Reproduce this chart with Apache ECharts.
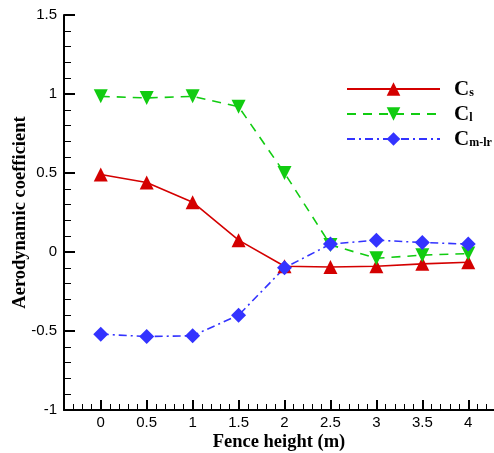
<!DOCTYPE html>
<html>
<head>
<meta charset="utf-8">
<script src="https://cdn.jsdelivr.net/npm/echarts@6/dist/echarts.min.js"></script>
<style>
  html, body { margin: 0; padding: 0; background: #fff; }
  #main { width: 494px; height: 453px; }
</style>
</head>
<body>
<div id="main"></div>
<script>
// fence height (m)
var heights = [0, 0.5, 1, 1.5, 2, 2.5, 3, 3.5, 4];
// aerodynamic coefficients
var cs = [0.49, 0.44, 0.315, 0.075, -0.09, -0.095, -0.09, -0.075, -0.065];
var cl = [0.985, 0.975, 0.985, 0.92, 0.5, 0.045, -0.04, -0.02, -0.01];
var cm = [-0.52, -0.535, -0.53, -0.40, -0.10, 0.05, 0.075, 0.06, 0.05];
var xTicks = [0, 0.5, 1, 1.5, 2, 2.5, 3, 3.5, 4];

var xMinor = [];
for (var k = -3; k <= 42; k++) xMinor.push(k / 10);

var subs = { 'Cs': 's', 'Cl': 'l', 'Cm-lr': 'm-lr' };
var serif = 'Liberation Serif';

function pairs(ys) {
    return heights.map(function (h, i) { return [h, ys[i]]; });
}

var chart = echarts.init(document.getElementById('main'));

var xBase = {
    type: 'value', min: -0.4, max: 4.28,
    splitLine: { show: false },
    axisLine: { onZero: false, lineStyle: { color: '#000', width: 2 } }
};

chart.setOption({
    animation: false,
    grid: { left: 64, right: 0, top: 15, bottom: 43, containLabel: false, outerBoundsMode: 'none' },
    legend: {
        orient: 'vertical', left: 341, top: 74,
        itemWidth: 93, itemHeight: 17, itemGap: 1,
        data: ['Cs', 'Cl', 'Cm-lr'],
        formatter: function (n) { return '{c|C}{s|' + subs[n] + '}'; },
        textStyle: {
            rich: {
                c: { fontFamily: serif, fontWeight: 'bold', fontSize: 21, lineHeight: 20, padding: [0, 0, 3, 9], verticalAlign: 'top', color: '#000' },
                s: { fontFamily: serif, fontWeight: 'bold', fontSize: 12, lineHeight: 12, verticalAlign: 'bottom', color: '#000' }
            }
        }
    },
    xAxis: [
        Object.assign({}, xBase, {
            name: 'Fence height (m)', nameLocation: 'middle', nameGap: 23, nameMoveOverlap: false,
            nameTextStyle: { fontFamily: serif, fontWeight: 'bold', fontSize: 18.5, color: '#000' },
            axisTick: { inside: true, length: 10, customValues: xTicks, lineStyle: { color: '#000', width: 2 } },
            axisLabel: { customValues: xTicks, margin: 5, fontFamily: 'Liberation Sans', fontSize: 15, color: '#000' }
        }),
        Object.assign({}, xBase, {
            position: 'bottom',
            axisLine: { show: false, onZero: false },
            axisTick: { inside: true, length: 6, customValues: xMinor, lineStyle: { color: '#000', width: 1 } },
            axisLabel: { show: false }
        })
    ],
    yAxis: {
        type: 'value', min: -1, max: 1.5, interval: 0.5,
        name: 'Aerodynamic coefficient', nameLocation: 'middle', nameGap: 34, nameMoveOverlap: false,
        nameTextStyle: { fontFamily: serif, fontWeight: 'bold', fontSize: 18.5, color: '#000' },
        splitLine: { show: false },
        axisLine: { onZero: false, lineStyle: { color: '#000', width: 2 } },
        axisTick: { inside: true, length: 11, lineStyle: { color: '#000', width: 2 } },
        minorTick: { show: true, splitNumber: 5, length: 7, lineStyle: { color: '#000', width: 1 } },
        axisLabel: { margin: 7, fontFamily: 'Liberation Sans', fontSize: 15, color: '#000' }
    },
    series: [
        {
            name: 'Cs', type: 'line', data: pairs(cs),
            symbol: 'triangle', symbolSize: 14,
            lineStyle: { color: '#d40000', width: 1.6 },
            itemStyle: { color: '#d40000' }
        },
        {
            name: 'Cl', type: 'line', data: pairs(cl),
            symbol: 'triangle', symbolRotate: 180, symbolSize: 14,
            lineStyle: { color: '#11cc11', width: 1.6, type: [9, 7] },
            itemStyle: { color: '#11cc11' }
        },
        {
            name: 'Cm-lr', type: 'line', data: pairs(cm),
            symbol: 'diamond', symbolSize: 15,
            lineStyle: { color: '#3333ff', width: 1.6, type: [8, 4, 2, 4] },
            itemStyle: { color: '#3333ff' }
        }
    ]
});
</script>
</body>
</html>
